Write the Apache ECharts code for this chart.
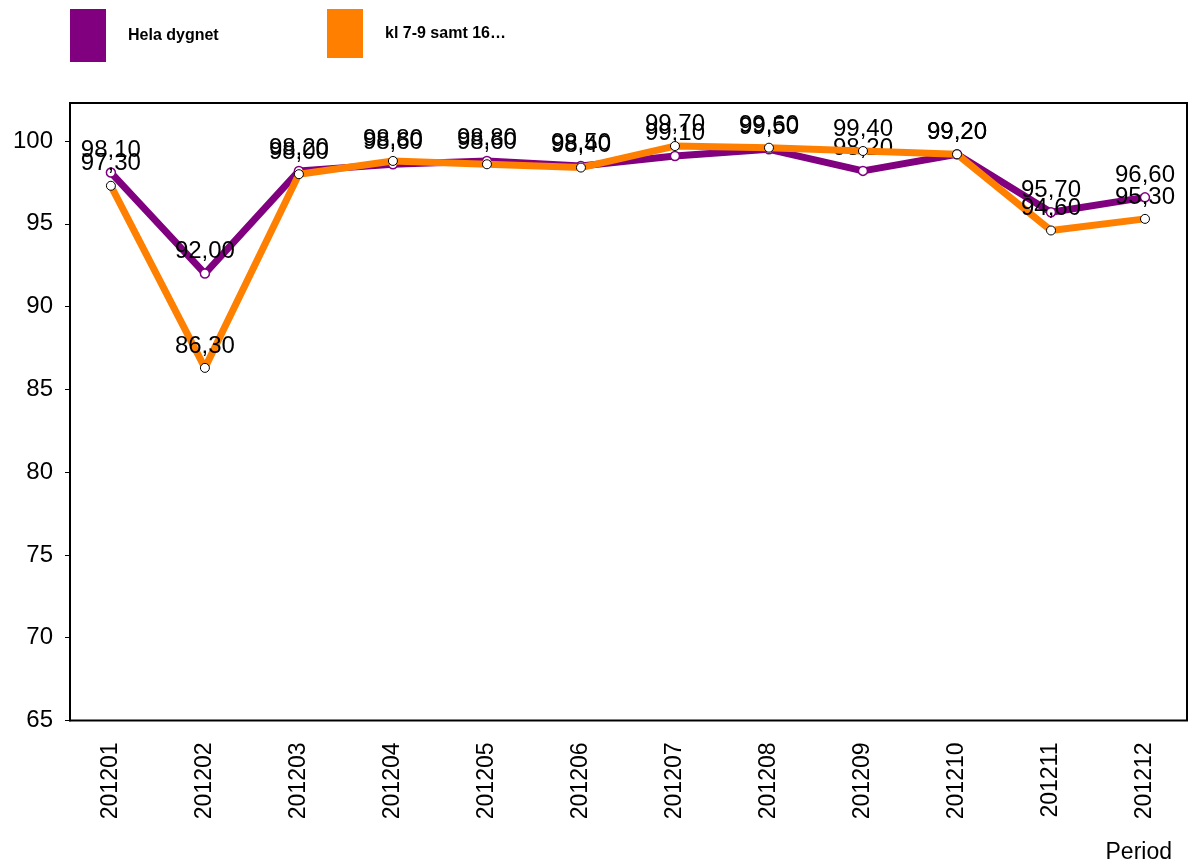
<!DOCTYPE html>
<html>
<head>
<meta charset="utf-8">
<script src="https://cdn.jsdelivr.net/npm/echarts@6/dist/echarts.min.js"></script>
<style>html,body{margin:0;padding:0;background:#fff}#c{width:1192px;height:865px}</style>
</head>
<body>
<div id="c"></div>
<script>
var categories = ['201201','201202','201203','201204','201205','201206','201207','201208','201209','201210','201211','201212'];
var helaDygnet = [98.10, 92.00, 98.20, 98.60, 98.80, 98.50, 99.10, 99.50, 98.20, 99.20, 95.70, 96.60];
var kl79 = [97.30, 86.30, 98.00, 98.80, 98.60, 98.40, 99.70, 99.60, 99.40, 99.20, 94.60, 95.30];
var seriesNames = ['Hela dygnet', 'kl 7-9 samt 16\u2026'];
var yTicks = [65, 70, 75, 80, 85, 90, 95, 100];

var FONT = "'Liberation Sans', Arial, sans-serif";
var fmt = function (p) { return p.value.toFixed(2).replace('.', ','); };

var chart = echarts.init(document.getElementById('c'), null, {renderer: 'canvas'});
chart.setOption({
  backgroundColor: '#fff',
  animation: false,
  title: {
    text: 'Period', right: 15, top: 836,
    textStyle: {fontFamily: FONT, fontSize: 23, fontWeight: 'normal', color: '#000'}
  },
  legend: [
    {
      left: 65, top: 4, icon: 'rect', itemWidth: 36, itemHeight: 53,
      data: [{name: seriesNames[0], itemStyle: {color: '#800080', borderWidth: 0}}],
      textStyle: {fontFamily: FONT, fontSize: 16, fontWeight: 'bold', color: '#000', padding: [0, 0, 0, 17]}
    },
    {
      left: 322, top: 4, icon: 'rect', itemWidth: 36, itemHeight: 49,
      data: [{name: seriesNames[1], itemStyle: {color: '#FF8000', borderWidth: 0}}],
      textStyle: {fontFamily: FONT, fontSize: 16, fontWeight: 'bold', color: '#000', padding: [0, 0, 0, 17]}
    }
  ],
  grid: [
    {left: 63.9, top: 103, width: 1130, height: 617.5, containLabel: false},
    {left: 70, top: 103, width: 1117, height: 617.5, show: true, borderColor: '#000', borderWidth: 2, backgroundColor: 'transparent', containLabel: false}
  ],
  xAxis: [
    {
      type: 'category', gridIndex: 0, data: categories, boundaryGap: true,
      axisLine: {show: false}, axisTick: {show: false},
      axisLabel: {rotate: 90, margin: 22, fontFamily: FONT, fontSize: 23, color: '#000'}
    },
    {type: 'category', gridIndex: 1, data: categories, show: false}
  ],
  yAxis: [
    {type: 'value', gridIndex: 0, min: 65, max: 102.3, show: false, splitLine: {show: false}},
    {
      type: 'value', gridIndex: 1, min: 65, max: 102.3, interval: 5,
      splitLine: {show: false},
      axisLine: {show: true, lineStyle: {color: '#000', width: 2}},
      axisTick: {show: true, inside: false, length: 5, customValues: yTicks, lineStyle: {color: '#000', width: 1}},
      axisLabel: {
        margin: 17, fontFamily: FONT, fontSize: 24, color: '#000', customValues: yTicks,
        formatter: function (v) { return yTicks.indexOf(v) >= 0 ? String(v) : ''; }
      }
    }
  ],
  series: [
    {
      name: seriesNames[0], type: 'line', xAxisIndex: 0, yAxisIndex: 0, data: helaDygnet,
      color: '#800080',
      lineStyle: {color: '#800080', width: 7, join: 'round', cap: 'round'},
      symbol: 'circle', symbolSize: 9,
      itemStyle: {color: '#fff', borderColor: '#800080', borderWidth: 1.5},
      label: {show: true, position: 'top', distance: 5, formatter: fmt, fontFamily: FONT, fontSize: 24, color: '#000'},
      z: 2
    },
    {
      name: seriesNames[1], type: 'line', xAxisIndex: 0, yAxisIndex: 0, data: kl79,
      color: '#FF8000',
      lineStyle: {color: '#FF8000', width: 7, join: 'round', cap: 'round'},
      symbol: 'circle', symbolSize: 9,
      itemStyle: {color: '#fff', borderColor: '#000', borderWidth: 1},
      label: {show: true, position: 'top', distance: 5, formatter: fmt, fontFamily: FONT, fontSize: 24, color: '#000'},
      z: 3
    }
  ]
});
</script>
</body>
</html>
